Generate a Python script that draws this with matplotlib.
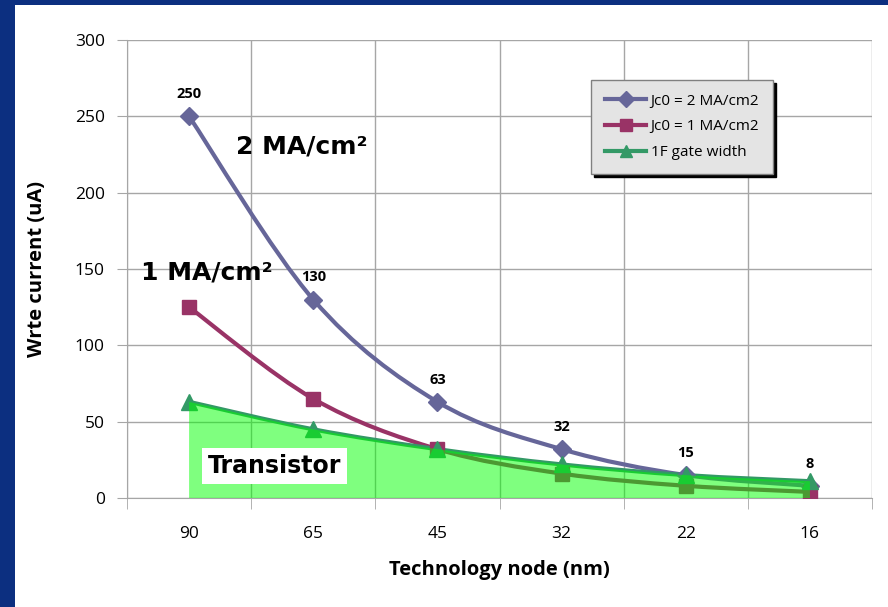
import numpy as np
import matplotlib
matplotlib.use('Agg')
import matplotlib.pyplot as plt
from matplotlib.path import Path
from matplotlib.patches import PathPatch, Rectangle
from matplotlib.lines import Line2D

# Data
nodes = ['90', '65', '45', '32', '22', '16']
jc0_2ma = [250, 130, 63, 32, 15, 8]
jc0_1ma = [125, 65, 32, 16, 8, 4]
gate_1f = [63, 45, 32, 22, 15, 11]
point_labels = ['250', '130', '63', '32', '15', '8']

blue = '#666699'
red = '#993366'
green = '#339966'
grid_col = '#a6a6a6'

plt.rcParams['font.family'] = ['Open Sans', 'DejaVu Sans']


def smooth_path(xs, ys, close_to=None):
    # Catmull-Rom style smoothing drawn as cubic bezier segments
    pts = np.column_stack([xs, ys]).astype(float)
    n = len(pts)
    verts = [pts[0]]
    codes = [Path.MOVETO]
    for i in range(n - 1):
        p0 = pts[i - 1] if i > 0 else pts[i]
        p1 = pts[i]
        p2 = pts[i + 1]
        p3 = pts[i + 2] if i + 2 < n else pts[i + 1]
        c1 = p1 + (p2 - p0) / 6.0
        c2 = p2 - (p3 - p1) / 6.0
        verts += [c1, c2, p2]
        codes += [Path.CURVE4] * 3
    if close_to is not None:
        verts += [(xs[-1], close_to), (xs[0], close_to), pts[0]]
        codes += [Path.LINETO, Path.LINETO, Path.CLOSEPOLY]
    return Path(verts, codes)


fig = plt.figure(figsize=(8.88, 6.07), dpi=100)
fig.patch.set_facecolor('#0c2f80')
fig.patches.append(Rectangle((15 / 888, 0), 1 - 15 / 888, 1 - 5 / 607,
                             transform=fig.transFigure, facecolor='white',
                             edgecolor='none', zorder=-10))

ax = fig.add_axes([127 / 888, 109 / 607, 745 / 888, 458 / 607], zorder=2)
ax.set_facecolor('white')
x = np.arange(len(nodes))

ax.set_xlim(-0.5, len(nodes) - 0.5)
ax.set_ylim(0, 300)
ax.set_yticks(np.arange(0, 301, 50))
ax.set_xticks(x)
ax.set_xticklabels(nodes)
ax.set_xticks(np.arange(-0.5, len(nodes), 1), minor=True)
ax.grid(True, which='minor', axis='x', color=grid_col, lw=1)
ax.grid(True, which='major', axis='y', color=grid_col, lw=1)
ax.set_axisbelow(True)
ax.tick_params(axis='x', which='major', length=0, pad=20, labelsize=12.5)
ax.tick_params(axis='x', which='minor', length=8, color=grid_col)
ax.tick_params(axis='y', length=7, color=grid_col, pad=9, labelsize=12.5)
for s in ['top', 'right']:
    ax.spines[s].set_visible(False)
for s in ['left', 'bottom']:
    ax.spines[s].set_color(grid_col)

for ys, col in [(jc0_2ma, blue), (jc0_1ma, red), (gate_1f, green)]:
    ax.add_patch(PathPatch(smooth_path(x, ys), fill=False, edgecolor=col,
                           lw=3, zorder=3, capstyle='round'))

ax.plot(x, jc0_2ma, ls='none', marker='D', ms=9, color=blue, zorder=4)
ax.plot(x, jc0_1ma, ls='none', marker='s', ms=10, color=red, zorder=4)
ax.plot(x, gate_1f, ls='none', marker='^', ms=11, color=green, zorder=4)

# transistor area on top
ax.add_patch(PathPatch(smooth_path(x, gate_1f, close_to=0), facecolor='#00ff00',
                       edgecolor='none', alpha=0.5, zorder=5))

for xi, yi, lab in zip(x, jc0_2ma, point_labels):
    ax.annotate(lab, (xi, yi), xytext=(0, 11), textcoords='offset points',
                ha='center', va='bottom', fontsize=10.5, fontweight='bold', zorder=6)

ax.text(0.38, 230, '2 MA/cm²', family='DejaVu Sans', fontsize=18,
        fontweight='bold', ha='left', va='center', zorder=6)
ax.text(-0.39, 148, '1 MA/cm²', family='DejaVu Sans', fontsize=18,
        fontweight='bold', ha='left', va='center', zorder=6)
ax.text(0.69, 21, 'Transistor', family='DejaVu Sans', fontsize=17,
        fontweight='bold', ha='center', va='center', zorder=7,
        bbox=dict(facecolor='white', edgecolor='none', pad=4))

ax.set_xlabel('Technology node (nm)', fontsize=14.5, fontweight='bold', labelpad=13)
ax.set_ylabel('Wrte current (uA)', fontsize=14.5, fontweight='bold', labelpad=20)

handles = [
    Line2D([], [], color=blue, lw=3, marker='D', ms=8),
    Line2D([], [], color=red, lw=3, marker='s', ms=8),
    Line2D([], [], color=green, lw=3, marker='^', ms=9),
]
leg = ax.legend(handles, ['Jc0 = 2 MA/cm2', 'Jc0 = 1 MA/cm2', '1F gate width'],
                loc='upper left', bbox_to_anchor=(0.623, 0.913), borderaxespad=0,
                fontsize=11, handlelength=2.7, handletextpad=0.3,
                labelspacing=0.7, fancybox=False, framealpha=1,
                shadow={'color': 'black', 'alpha': 1}, borderpad=0.9)
leg.get_frame().set_facecolor('#e4e4e4')
leg.get_frame().set_edgecolor('#808080')
leg.set_zorder(8)

plt.savefig('out.png', dpi=100, facecolor=fig.get_facecolor())
